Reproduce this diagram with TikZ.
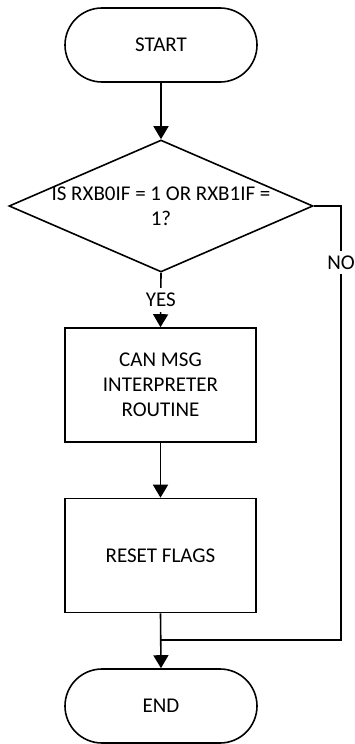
\documentclass[tikz,border=0pt]{standalone}
\usepackage{fontspec}
\setmainfont{Carlito}
\usetikzlibrary{arrows.meta,shapes.geometric}
\begin{document}
\begin{tikzpicture}[x=1pt,y=-1pt,
  every node/.style={font=\fontsize{21}{25}\selectfont},
  flowline/.style={line width=1.6pt},
  arrowline/.style={flowline,-{Triangle[length=13pt,width=15pt]}},
  terminal/.style={draw,line width=1.6pt,rectangle,rounded corners=37pt,
    minimum width=192pt,minimum height=74pt,inner sep=0pt},
  process/.style={draw,line width=1.6pt,rectangle,
    minimum width=191pt,minimum height=114pt,inner sep=0pt,align=center},
  decision/.style={draw,line width=1.6pt,diamond,
    minimum width=304pt,minimum height=132pt,inner sep=0pt},
  branchlabel/.style={fill=white,inner sep=5pt}]
  \useasboundingbox (0,0) rectangle (354,744);

  % flowchart boxes
  \node[terminal] (start) at (161,45) {START};
  \node[decision] (dec) at (161,206) {};
  \node[align=center] (dectext) at (161,206) {IS RXB0IF = 1 OR RXB1IF =\\1?};
  \node[process] (interp) at (160.5,385) {CAN MSG\\INTERPRETER\\ROUTINE};
  \node[process] (reset) at (160.5,555.5) {RESET FLAGS};
  \node[terminal] (stop) at (161,706) {END};

  % routing points of the NO branch
  \coordinate (nocorner) at (341,206);
  \coordinate (join) at (161,640);

  % connectors
  \draw[arrowline] (start) -- (dec.north);
  \draw[arrowline] (dec.south) -- node[branchlabel] {YES} (interp.north);
  \draw[arrowline] (interp) -- (reset.north);
  \draw[arrowline] (reset.south) -- (stop.north);
  \draw[flowline] (dec.east) -- (nocorner)
    -- node[branchlabel,pos=0.13] {NO} (nocorner |- join) -- (join);
\end{tikzpicture}
\end{document}
